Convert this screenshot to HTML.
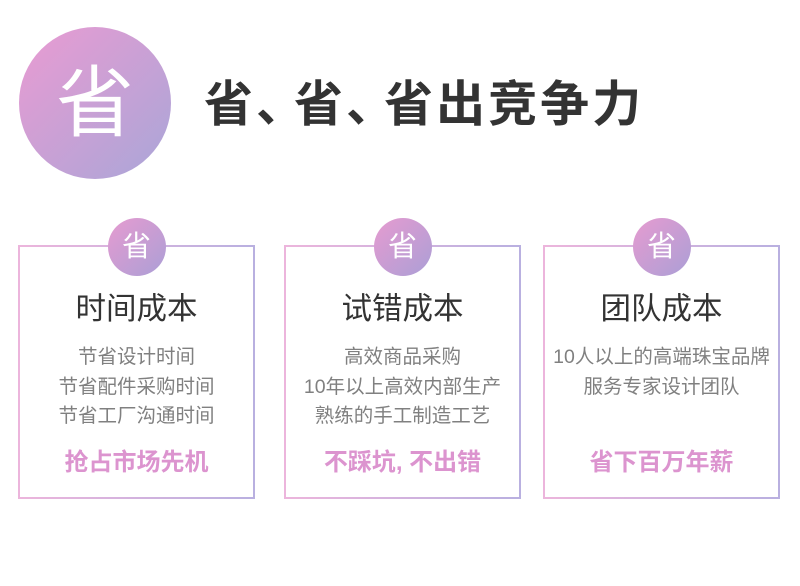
<!DOCTYPE html>
<html><head><meta charset="utf-8"><style>
*{margin:0;padding:0;box-sizing:border-box}
body{width:800px;height:586px;background:#fff;position:relative;overflow:hidden;font-family:"Liberation Sans","Noto Sans CJK SC",sans-serif}
.big{position:absolute;left:19px;top:27px;width:152px;height:152px;border-radius:50%;background:linear-gradient(135deg,#ea9bd2,#a9a6d8);color:#fff;font-size:78px;line-height:152px;text-align:center}
.title{position:absolute;left:204px;top:72px;font-size:49px;font-weight:bold;color:#333;line-height:66px;white-space:nowrap;letter-spacing:3px}
.title span{margin-right:-14px}
.card{position:absolute;top:245px;width:237px;height:254px;border:2px solid;border-image:linear-gradient(90deg,#ecb5dc,#b9b0e0) 1;text-align:center}
.badge{position:absolute;left:50%;top:-29px;margin-left:-29px;width:58px;height:58px;border-radius:50%;background:linear-gradient(135deg,#e69bd0,#ab9fd6);color:#fff;font-size:29px;line-height:58px;text-align:center}
.h{position:absolute;left:-10px;right:-10px;top:44px;font-size:30.5px;color:#333;line-height:36px}
.b{position:absolute;left:-10px;right:-10px;top:96px;font-size:19.5px;color:#808080;line-height:29.5px}
.a{position:absolute;left:-10px;right:-10px;top:201px;font-size:24px;font-weight:bold;color:#dc94cf;line-height:30px}
</style></head><body>
<div class="big">省</div>
<div class="title">省<span>、</span>省<span>、</span>省出竞争力</div>
<div class="card" style="left:18px"><div class="badge">省</div><div class="h">时间成本</div><div class="b">节省设计时间<br>节省配件采购时间<br>节省工厂沟通时间</div><div class="a">抢占市场先机</div></div>
<div class="card" style="left:284px"><div class="badge">省</div><div class="h">试错成本</div><div class="b">高效商品采购<br>10年以上高效内部生产<br>熟练的手工制造工艺</div><div class="a">不踩坑, 不出错</div></div>
<div class="card" style="left:543px"><div class="badge">省</div><div class="h">团队成本</div><div class="b">10人以上的高端珠宝品牌<br>服务专家设计团队</div><div class="a">省下百万年薪</div></div>
</body></html>
